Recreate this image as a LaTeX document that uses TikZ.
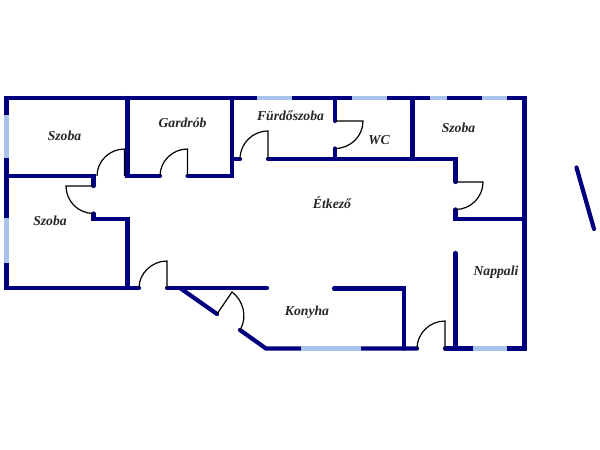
\documentclass[tikz,border=0pt]{standalone}
\usepackage{fontspec}
\setmainfont{Liberation Serif}
\definecolor{wallc}{HTML}{00007F}
\definecolor{winc}{HTML}{A9C4EA}
\tikzset{
  wall/.style={draw=wallc,line width=4.2pt,line cap=round,line join=miter},
  window/.style={draw=winc,line width=4.2pt,line cap=butt},
  door/.style={draw=black,line width=1.2pt},
  room/.style={font=\bfseries\itshape\fontsize{13.7}{15}\selectfont,text=black!85,inner sep=0pt}
}
\begin{document}
\begin{tikzpicture}[x=1pt,y=-1pt]
\useasboundingbox[fill=white] (0,0) rectangle (600,450);
% outer walls
\draw[wall] (139,288) -- (6.5,288) -- (6.5,98) -- (524.5,98) -- (524.5,348.5) -- (445,348.5);
\draw[wall] (417,348.5) -- (266,348.5) -- (240,330);
\draw[wall] (180,288) -- (217,314);
% inner walls
\draw[wall] (6.5,176) -- (93.5,176) -- (93.5,186);
\draw[wall] (93.5,213.5) -- (93.5,219) -- (127.5,219) -- (127.5,288);
\draw[wall] (127.5,98) -- (127.5,176) -- (160,176);
\draw[wall] (187.5,176) -- (232,176) -- (232,98);
\draw[wall] (232,159) -- (240,159);
\draw[wall] (268,159) -- (455.5,159) -- (455.5,182);
\draw[wall] (335,98) -- (335,121);
\draw[wall] (335,148.5) -- (335,159);
\draw[wall] (412.5,98) -- (412.5,159);
\draw[wall] (455.5,209.5) -- (455.5,219) -- (524.5,219);
\draw[wall] (167,288) -- (267,288);
\draw[wall] (334,288.5) -- (404,288.5) -- (404,348.5);
\draw[wall] (455.5,253) -- (455.5,348.5);
\draw[wall] (576.5,167.5) -- (594,229);
% windows
\draw[window] (6.5,115) -- (6.5,158);
\draw[window] (6.5,218) -- (6.5,263);
\draw[window] (257,98) -- (292,98);
\draw[window] (352,98) -- (387,98);
\draw[window] (430,98) -- (447,98);
\draw[window] (482,98) -- (507,98);
\draw[window] (301,348.5) -- (361,348.5);
\draw[window] (473,348.5) -- (507,348.5);
% doors: leaf and swing
\draw[door] (124.5,176) -- (124.5,149) .. controls (109.3,149) and (97,161.3) .. (97,176);
\draw[door] (187.5,176) -- (187.5,149) .. controls (172.3,149) and (160,161.3) .. (160,176);
\draw[door] (93.5,186) -- (66,186) .. controls (66,201.2) and (78.3,213.5) .. (93.5,213.5);
\draw[door] (167,288) -- (167,261) .. controls (151.8,261) and (139,273.3) .. (139,288);
\draw[door] (268,159) -- (268,131) .. controls (252.5,131) and (240,143.5) .. (240,159);
\draw[door] (335,121) -- (363,121) .. controls (363,136.2) and (350.5,148.5) .. (335,148.5);
\draw[door] (455.5,182) -- (483,182) .. controls (483,197.2) and (470.7,209.5) .. (455.5,209.5);
\draw[door] (445,348.5) -- (445,321) .. controls (429.8,321) and (417,333.3) .. (417,348.5);
\draw[door] (217,314) -- (232,292) .. controls (243,300) and (248,317) .. (240,330);
% labels
\node[room] (szoba1) at (64.5,135.5) {Szoba};
\node[room] (szoba2) at (50,220.5) {Szoba};
\node[room] (gardrob) at (182.5,122.5) {Gardrób};
\node[room] (furdo) at (290.5,116) {Fürdőszoba};
\node[room] (wc) at (379,140) {WC};
\node[room] (szoba3) at (458.5,127.5) {Szoba};
\node[room] (etkezo) at (332,203) {Étkező};
\node[room] (nappali) at (496,272.5) {Nappali};
\node[room] (konyha) at (307,312.5) {Konyha};
\end{tikzpicture}
\end{document}
